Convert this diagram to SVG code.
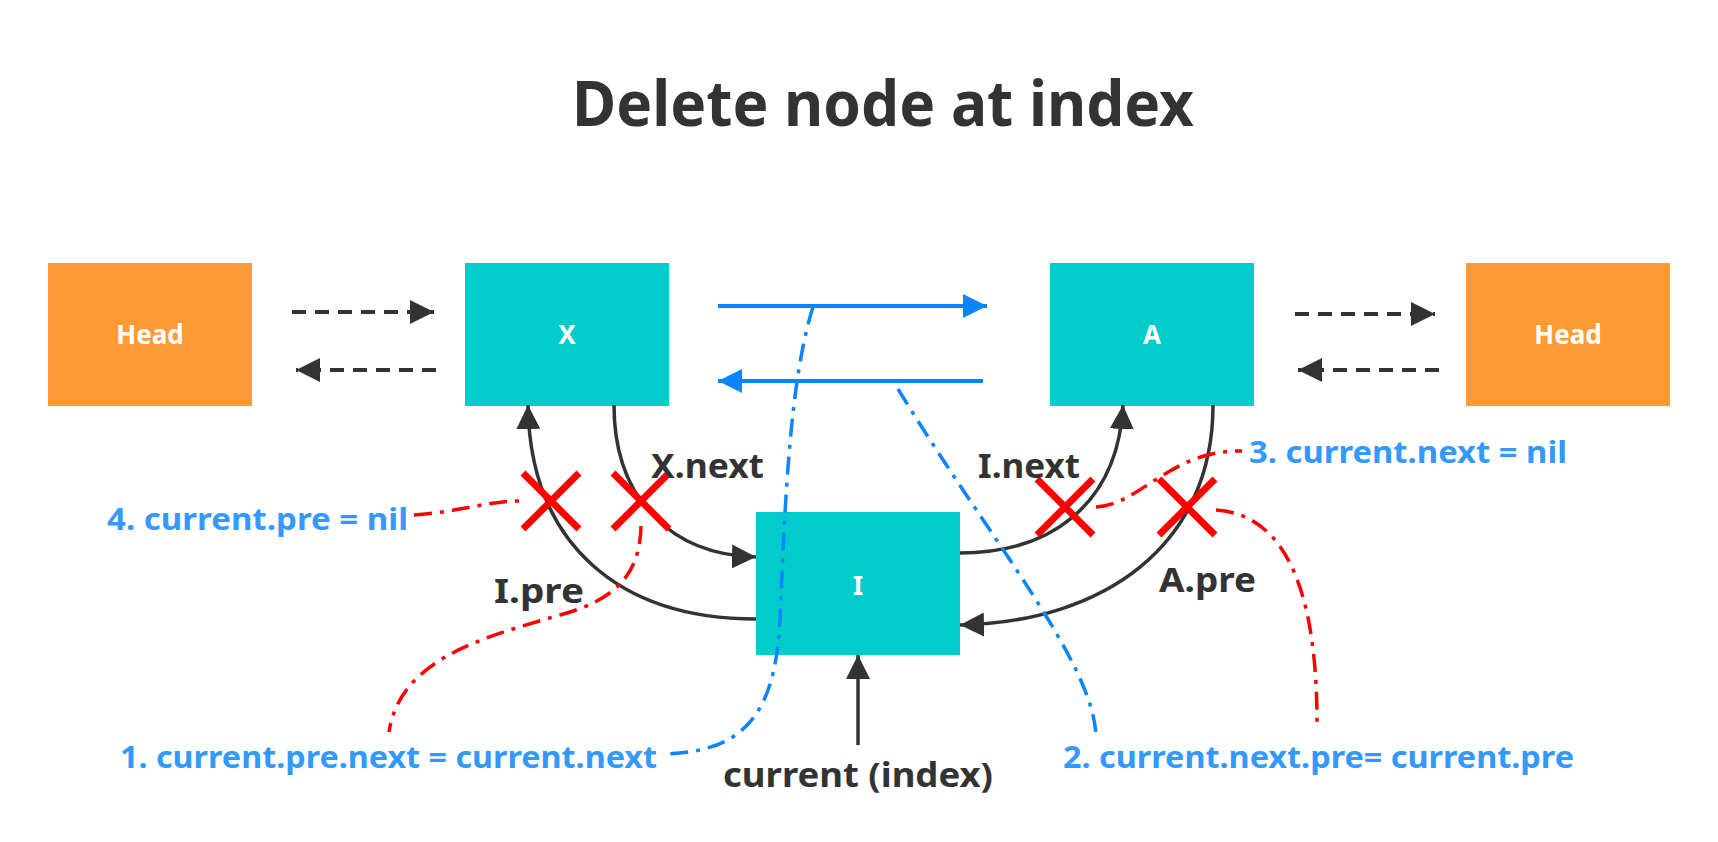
<svg xmlns="http://www.w3.org/2000/svg" width="1718" height="842" viewBox="0 0 1718 842">
<style>
.head{fill:#FF9B37}
.node{fill:#00CCCC}
.nt{font-family:"Noto Sans",sans-serif;font-weight:bold;fill:#fff;font-size:26px;text-anchor:middle}
.lbl{font-family:"Noto Sans",sans-serif;font-weight:bold;fill:#333;font-size:34px}
.step{font-family:"Noto Sans",sans-serif;font-weight:bold;fill:#3399FF;font-size:31px}
.dash{fill:none;stroke:#333;stroke-width:4;stroke-dasharray:14 9}
.solid{fill:none;stroke:#333;stroke-width:3.5}
.blue{fill:none;stroke:#0A84FF;stroke-width:4}
.bdd{fill:none;stroke:#0A84FF;stroke-width:3.5;stroke-dasharray:18 8 4 8}
.rdd{fill:none;stroke:#FF0000;stroke-width:3.5;stroke-dasharray:18 8 4 8}
.cross{stroke:#FF0000;stroke-width:7;fill:none}
</style>
<defs>
<marker id="ad" markerUnits="userSpaceOnUse" markerWidth="30" markerHeight="24" refX="24" refY="12" orient="auto"><path d="M0,0 L24,12 L0,24 Z" fill="#333"/></marker>
<marker id="ab" markerUnits="userSpaceOnUse" markerWidth="30" markerHeight="24" refX="24" refY="12" orient="auto"><path d="M0,0 L24,12 L0,24 Z" fill="#0A84FF"/></marker>
</defs>
<rect width="1718" height="842" fill="#fff"/>
<text x="883" y="126" font-family="'Noto Sans',sans-serif" font-weight="bold" font-size="62" fill="#333" text-anchor="middle" textLength="622" lengthAdjust="spacingAndGlyphs">Delete node at index</text>

<g id="head-left"><rect class="head" x="48" y="263" width="204" height="143"/><text class="nt" x="150" y="344">Head</text></g>
<g id="node-x"><rect class="node" x="465" y="263" width="204" height="143"/><text class="nt" x="567" y="344">X</text></g>
<g id="node-a"><rect class="node" x="1050" y="263" width="204" height="143"/><text class="nt" x="1152" y="344">A</text></g>
<g id="head-right"><rect class="head" x="1466" y="263" width="204" height="143"/><text class="nt" x="1568" y="344">Head</text></g>
<g id="node-i"><rect class="node" x="756" y="512" width="204" height="143"/><text class="nt" x="858" y="595">I</text></g>

<g id="connectors">
<path class="dash" d="M292,312 H434" marker-end="url(#ad)"/>
<path class="dash" d="M436,370 H296" marker-end="url(#ad)"/>
<path class="dash" d="M1295,314 H1435" marker-end="url(#ad)"/>
<path class="dash" d="M1439,370 H1298" marker-end="url(#ad)"/>
<path class="blue" d="M718,306 H987" marker-end="url(#ab)"/>
<path class="blue" d="M983,381 H718" marker-end="url(#ab)"/>
<path class="solid" d="M614,405 C614,500 672,555 756,557" marker-end="url(#ad)"/>
<path class="solid" d="M756,619 C620,619 530,545 528,405" marker-end="url(#ad)"/>
<path class="solid" d="M960,553 C1050,553 1118,505 1123,405" marker-end="url(#ad)"/>
<path class="solid" d="M1213,405 C1213,545 1105,622 960,625" marker-end="url(#ad)"/>
<path class="solid" d="M858,745 V655" marker-end="url(#ad)"/>
<path class="bdd" d="M813,307 C790,380 785,500 780,620 C775,720 740,752 663,754"/>
<path class="bdd" d="M898,389 C990,540 1092,660 1096,735"/>
<path class="rdd" d="M414,515 C460,512 490,500 524,501"/>
<path class="rdd" d="M641,526 C640,575 615,600 560,615 C480,638 400,660 389,732"/>
<path class="rdd" d="M1096,507 C1140,505 1170,450 1242,451"/>
<path class="rdd" d="M1216,510 C1290,515 1317,600 1317,723"/>
</g>

<g id="crosses">
<path class="cross" d="M523,473 L579,529 M579,473 L523,529"/>
<path class="cross" d="M613,473 L669,529 M669,473 L613,529"/>
<path class="cross" d="M1037,479 L1093,535 M1093,479 L1037,535"/>
<path class="cross" d="M1159,479 L1215,535 M1215,479 L1159,535"/>
</g>

<g id="labels">
<text class="lbl" x="651" y="478" textLength="113" lengthAdjust="spacingAndGlyphs">X.next</text>
<text class="lbl" x="494" y="603" textLength="90" lengthAdjust="spacingAndGlyphs">I.pre</text>
<text class="lbl" x="978" y="478" textLength="102" lengthAdjust="spacingAndGlyphs">I.next</text>
<text class="lbl" x="1159" y="592" textLength="97" lengthAdjust="spacingAndGlyphs">A.pre</text>
<text class="lbl" x="723" y="787" textLength="270" lengthAdjust="spacingAndGlyphs">current (index)</text>
<text class="step" x="107" y="530" textLength="301" lengthAdjust="spacingAndGlyphs">4. current.pre = nil</text>
<text class="step" x="1249" y="463" textLength="318" lengthAdjust="spacingAndGlyphs">3. current.next = nil</text>
<text class="step" x="120" y="768" textLength="537" lengthAdjust="spacingAndGlyphs">1. current.pre.next = current.next</text>
<text class="step" x="1063" y="768" textLength="511" lengthAdjust="spacingAndGlyphs">2. current.next.pre= current.pre</text>
</g>
</svg>
